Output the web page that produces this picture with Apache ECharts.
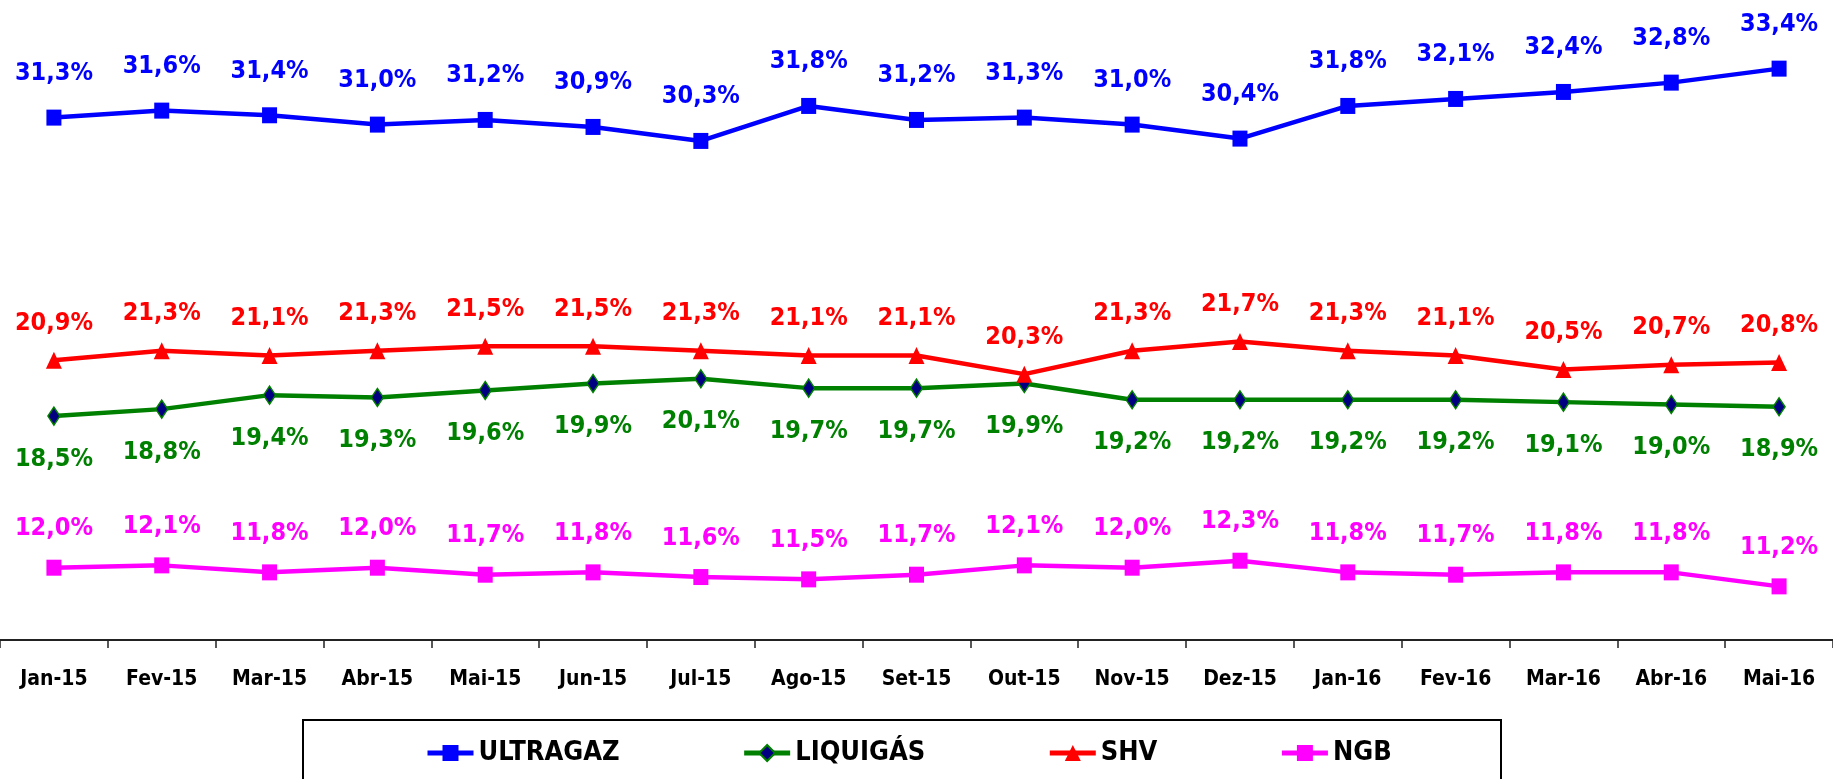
<!DOCTYPE html>
<html>
<head>
<meta charset="utf-8">
<script src="https://cdn.jsdelivr.net/npm/echarts@6/dist/echarts.min.js"></script>
<style>
html,body{margin:0;padding:0;background:#fff;}
#chart{width:1833px;height:779px;}
</style>
</head>
<body>
<div id="chart"></div>
<script>
const categories = ['Jan-15','Fev-15','Mar-15','Abr-15','Mai-15','Jun-15','Jul-15','Ago-15','Set-15','Out-15','Nov-15','Dez-15','Jan-16','Fev-16','Mar-16','Abr-16','Mai-16'];
const ultragaz = [31.3,31.6,31.4,31.0,31.2,30.9,30.3,31.8,31.2,31.3,31.0,30.4,31.8,32.1,32.4,32.8,33.4];
const liquigas = [18.5,18.8,19.4,19.3,19.6,19.9,20.1,19.7,19.7,19.9,19.2,19.2,19.2,19.2,19.1,19.0,18.9];
const shv = [20.9,21.3,21.1,21.3,21.5,21.5,21.3,21.1,21.1,20.3,21.3,21.7,21.3,21.1,20.5,20.7,20.8];
const ngb = [12.0,12.1,11.8,12.0,11.7,11.8,11.6,11.5,11.7,12.1,12.0,12.3,11.8,11.7,11.8,11.8,11.2];

const FONT = '"DejaVu Sans Condensed", "DejaVu Sans", sans-serif';
const fmt = p => p.value.toFixed(1).replace('.', ',') + '%';

function mkSeries(name, data, color, symbol, size, labelDy, borderColor, fill) {
  return {
    name: name,
    type: 'line',
    data: data,
    symbol: symbol,
    symbolSize: size,
    z: 2,
    lineStyle: { color: color, width: 4.5 },
    itemStyle: { color: fill || color, borderColor: borderColor || color, borderWidth: borderColor ? 1.5 : 0 },
    label: {
      show: true,
      position: 'inside',
      offset: [0, labelDy],
      formatter: fmt,
      color: color,
      fontFamily: FONT,
      fontWeight: 'bold',
      fontSize: 25
    },
    emphasis: { disabled: true },
    animation: false
  };
}

const chart = echarts.init(document.getElementById('chart'));
chart.setOption({
  backgroundColor: '#ffffff',
  animation: false,
  grid: { left: -2, right: -11, top: 8, bottom: 139, containLabel: false },
  xAxis: {
    type: 'category',
    data: categories,
    boundaryGap: true,
    axisLine: { lineStyle: { color: '#222', width: 2 } },
    axisTick: { show: true, length: 8, lineStyle: { color: '#222', width: 1.5 } },
    axisLabel: { color: '#000', fontFamily: FONT, fontWeight: 'bold', fontSize: 21, margin: 29, interval: 0 }
  },
  yAxis: {
    type: 'value',
    min: 8.9,
    max: 36,
    show: false,
    splitLine: { show: false }
  },
  legend: {
    left: 425,
    top: 735,
    padding: 0,
    itemGap: 122,
    itemWidth: 46,
    itemHeight: 20,
    lineStyle: { width: 5 },
    textStyle: { color: '#000', fontFamily: FONT, fontWeight: 'bold', fontSize: 27, lineHeight: 36 },
    data: ['ULTRAGAZ', 'LIQUIGÁS', 'SHV', 'NGB']
  },
  graphic: [{
    type: 'rect',
    shape: { x: 303, y: 720, width: 1198, height: 120 },
    style: { fill: 'none', stroke: '#000', lineWidth: 2 },
    silent: true
  }],
  series: [
    mkSeries('ULTRAGAZ', ultragaz, '#0000ff', 'rect', [15, 16], -44),
    mkSeries('LIQUIGÁS', liquigas, '#008000', 'diamond', [12, 18], 43, '#008000', '#000080'),
    mkSeries('SHV', shv, '#ff0000', 'triangle', [16, 17], -37),
    mkSeries('NGB', ngb, '#ff00ff', 'rect', [15, 16], -39)
  ]
});
</script>
</body>
</html>
